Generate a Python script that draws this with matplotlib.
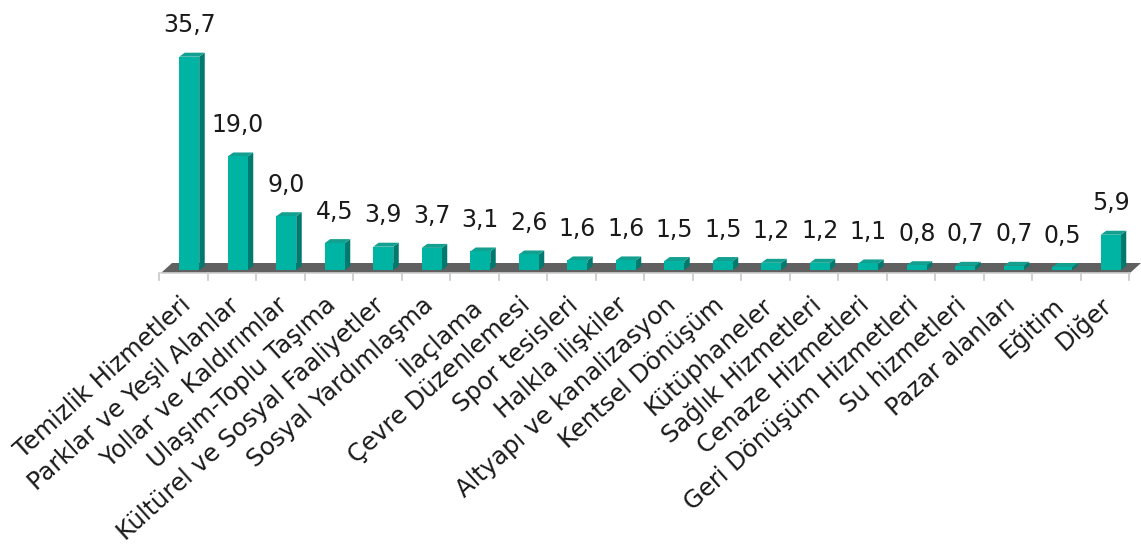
import matplotlib
matplotlib.use("Agg")
import matplotlib.pyplot as plt
from matplotlib.patches import Polygon

categories = ["Temizlik Hizmetleri", "Parklar ve Yeşil Alanlar", "Yollar ve Kaldırımlar",
              "Ulaşım-Toplu Taşıma", "Kültürel ve Sosyal Faaliyetler", "Sosyal Yardımlaşma",
              "İlaçlama", "Çevre Düzenlemesi", "Spor tesisleri", "Halkla ilişkiler",
              "Altyapı ve kanalizasyon", "Kentsel Dönüşüm", "Kütüphaneler", "Sağlık Hizmetleri",
              "Cenaze Hizmetleri", "Geri Dönüşüm Hizmetleri", "Su hizmetleri", "Pazar alanları",
              "Eğitim", "Diğer"]
values = [35.7, 19.0, 9.0, 4.5, 3.9, 3.7, 3.1, 2.6, 1.6, 1.6, 1.5, 1.5, 1.2, 1.2, 1.1,
          0.8, 0.7, 0.7, 0.5, 5.9]
value_labels = ["35,7", "19,0", "9,0", "4,5", "3,9", "3,7", "3,1", "2,6", "1,6", "1,6",
                "1,5", "1,5", "1,2", "1,2", "1,1", "0,8", "0,7", "0,7", "0,5", "5,9"]

W, H = 1141, 544
AX_W, AX_H = 970, 239
fig = plt.figure(figsize=(W / 100, H / 100), dpi=100)
ax = fig.add_axes([159 / W, 274 / H, AX_W / W, AX_H / H])
n = len(categories)
ax.set_xlim(-0.5, n - 0.5)
ax.set_ylim(0, 40)
ax.axis("off")

pxx = n / AX_W      # data units per pixel in x
pxy = 40 / AX_H     # data units per pixel in y

FRONT = "#00B4A4"
SIDE = "#007A6F"
TOP = "#13A090"

# floor
floor = Polygon([(-0.5 + 2 * pxx, -3 * pxy), (n - 0.5 + 1 * pxx, -3 * pxy),
                 (n - 0.5 + 12 * pxx, 7 * pxy), (-0.5 + 13 * pxx, 7 * pxy)],
                closed=True, facecolor="#606060", edgecolor="none", clip_on=False, zorder=1)
ax.add_patch(floor)
ax.plot([-0.5 + 2 * pxx, n - 0.5 + 1 * pxx], [-3 * pxy, -3 * pxy], color="#D0D0D0",
        lw=1.2, clip_on=False, zorder=2)
for k in range(n + 1):
    xt = k - 0.5
    ax.plot([xt, xt], [-3 * pxy, -10 * pxy], color="#C8C8C8", lw=1.2, clip_on=False, zorder=2)

bw = 20 * pxx
off = 6 * pxx
dx = 5.5 * pxx
dy = 4 * pxy
bars = ax.bar([i + off for i in range(n)], values, width=bw, color=FRONT, zorder=5,
              clip_on=False)
for i, (b, v) in enumerate(zip(bars, values)):
    x0 = b.get_x()
    x1 = x0 + b.get_width()
    side = Polygon([(x1, 0), (x1 + dx, dy), (x1 + dx, v + dy), (x1, v)], closed=True,
                   facecolor=SIDE, edgecolor="none", zorder=4, clip_on=False)
    top = Polygon([(x0, v), (x1, v), (x1 + dx, v + dy), (x0 + dx, v + dy)], closed=True,
                  facecolor=TOP, edgecolor="none", zorder=4, clip_on=False)
    ax.add_patch(side)
    ax.add_patch(top)
    ax.annotate(value_labels[i], xy=(i + off, v), xytext=(0, 14),
                textcoords="offset points", ha="center", va="bottom", fontsize=17,
                color="#1A1A1A", zorder=10, annotation_clip=False)

for i, c in enumerate(categories):
    ax.annotate(c, xy=(i + 0.08, 0), xycoords=("data", "data"), xytext=(0, -23),
                textcoords="offset points", rotation=42, rotation_mode="anchor",
                ha="right", va="center", fontsize=17.5, color="#1A1A1A",
                annotation_clip=False)

fig.savefig("out.png", dpi=100)
